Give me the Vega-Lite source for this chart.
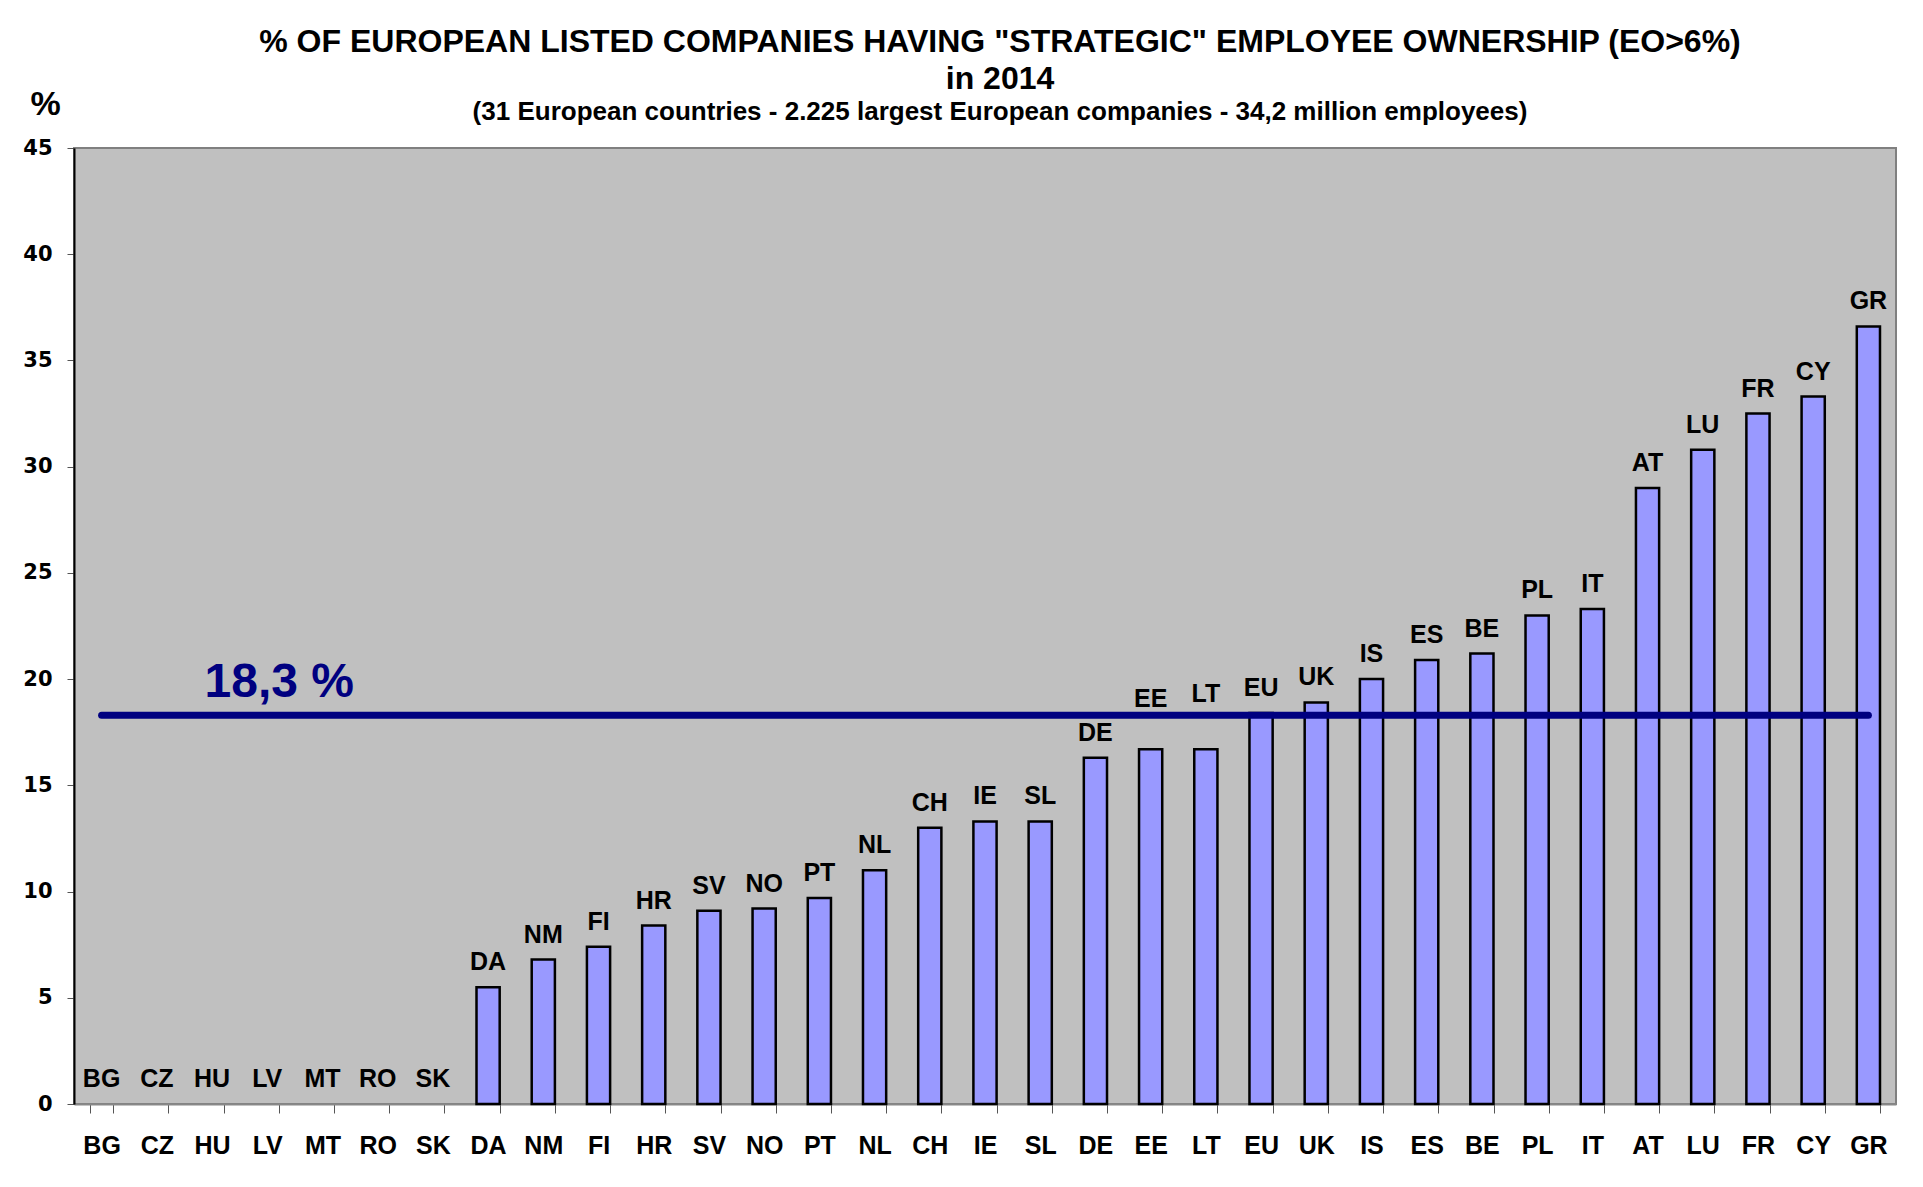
{
  "$schema": "https://vega.github.io/schema/vega-lite/v6.json",
  "autosize": {"type": "none"},
  "width": 1822,
  "height": 956,
  "padding": {"left": 74, "top": 148, "right": 27, "bottom": 83},
  "background": "white",
  "title": {
    "text": ["% OF EUROPEAN LISTED COMPANIES HAVING \"STRATEGIC\" EMPLOYEE OWNERSHIP (EO>6%)", "in 2014"],
    "subtitle": "(31 European countries - 2.225 largest European companies - 34,2 million employees)",
    "font": "Liberation Sans",
    "fontSize": 32,
    "fontWeight": "bold",
    "color": "black",
    "lineHeight": 37,
    "subtitleFont": "Liberation Sans",
    "subtitleFontSize": 26,
    "subtitleFontWeight": "bold",
    "subtitleColor": "black",
    "subtitlePadding": 3,
    "anchor": "middle",
    "dx": 15,
    "dy": 63,
    "offset": 24
  },
  "data": {
    "values": [
      {"country": "BG", "value": 0},
      {"country": "CZ", "value": 0},
      {"country": "HU", "value": 0},
      {"country": "LV", "value": 0},
      {"country": "MT", "value": 0},
      {"country": "RO", "value": 0},
      {"country": "SK", "value": 0},
      {"country": "DA", "value": 5.5},
      {"country": "NM", "value": 6.8},
      {"country": "FI", "value": 7.4},
      {"country": "HR", "value": 8.4},
      {"country": "SV", "value": 9.1},
      {"country": "NO", "value": 9.2},
      {"country": "PT", "value": 9.7},
      {"country": "NL", "value": 11.0},
      {"country": "CH", "value": 13.0},
      {"country": "IE", "value": 13.3},
      {"country": "SL", "value": 13.3},
      {"country": "DE", "value": 16.3},
      {"country": "EE", "value": 16.7},
      {"country": "LT", "value": 16.7},
      {"country": "EU", "value": 18.4},
      {"country": "UK", "value": 18.9},
      {"country": "IS", "value": 20.0},
      {"country": "ES", "value": 20.9},
      {"country": "BE", "value": 21.2},
      {"country": "PL", "value": 23.0},
      {"country": "IT", "value": 23.3},
      {"country": "AT", "value": 29.0},
      {"country": "LU", "value": 30.8},
      {"country": "FR", "value": 32.5},
      {"country": "CY", "value": 33.3},
      {"country": "GR", "value": 36.6}
    ]
  },
  "encoding": {
    "x": {
      "field": "country",
      "type": "nominal",
      "scale": {
        "domain": ["BG","CZ","HU","LV","MT","RO","SK","DA","NM","FI","HR","SV","NO","PT","NL","CH","IE","SL","DE","EE","LT","EU","UK","IS","ES","BE","PL","IT","AT","LU","FR","CY","GR"],
        "paddingInner": 0.58,
        "paddingOuter": 0.29
      },
      "axis": {
        "title": null,
        "labelAngle": 0,
        "labelFont": "Liberation Sans",
        "labelFontSize": 25,
        "labelFontWeight": "bold",
        "labelColor": "black",
        "labelPadding": 20,
        "tickBand": "extent",
        "tickSize": 9,
        "tickColor": "#555555",
        "tickWidth": 1,
        "domainColor": "#888888",
        "domainWidth": 2
      }
    },
    "y": {
      "field": "value",
      "type": "quantitative",
      "scale": {"domain": [0, 45], "nice": false},
      "axis": {
        "values": [0, 5, 10, 15, 20, 25, 30, 35, 40, 45],
        "grid": false,
        "title": "%",
        "titleAngle": 0,
        "titleX": -29,
        "titleY": -44,
        "titleAlign": "center",
        "titleBaseline": "middle",
        "titleFont": "Liberation Sans",
        "titleFontSize": 34,
        "titleFontWeight": "bold",
        "titleColor": "black",
        "labelFont": "DejaVu Sans",
        "labelFontSize": 21,
        "labelFontWeight": "bold",
        "labelColor": "black",
        "labelPadding": 15,
        "tickSize": 7,
        "tickColor": "#555555",
        "domainColor": "black",
        "domainWidth": 2
      }
    }
  },
  "layer": [
    {
      "transform": [{"filter": "datum.value > 0"}],
      "mark": {"type": "bar", "fill": "#9999FF", "stroke": "black", "strokeWidth": 2.5}
    },
    {
      "transform": [{"calculate": "datum.country === 'EE' ? 17.9 : (datum.country === 'LT' ? 18.1 : datum.value)", "as": "labelY"}],
      "mark": {
        "type": "text",
        "baseline": "alphabetic",
        "align": "center",
        "dy": -17,
        "font": "Liberation Sans",
        "fontSize": 25,
        "fontWeight": "bold",
        "color": "black"
      },
      "encoding": {
        "y": {"field": "labelY", "type": "quantitative"},
        "text": {"field": "country"}
      }
    },
    {
      "data": {"values": [{"from": "BG", "to": "GR", "avg": 18.3, "label": "18,3 %", "at": "LV"}]},
      "mark": {"type": "rule", "color": "#000080", "strokeWidth": 7, "strokeCap": "round"},
      "encoding": {
        "x": {"field": "from", "type": "nominal"},
        "x2": {"field": "to"},
        "y": {"field": "avg", "type": "quantitative"}
      }
    },
    {
      "data": {"values": [{"from": "BG", "to": "GR", "avg": 18.3, "label": "18,3 %", "at": "LV"}]},
      "mark": {
        "type": "text",
        "baseline": "alphabetic",
        "align": "center",
        "dx": 12,
        "dy": -18,
        "font": "Liberation Sans",
        "fontSize": 48,
        "fontWeight": "bold",
        "color": "#000080"
      },
      "encoding": {
        "x": {"field": "at", "type": "nominal"},
        "y": {"field": "avg", "type": "quantitative"},
        "text": {"field": "label"}
      }
    }
  ],
  "config": {
    "view": {"fill": "#C0C0C0", "stroke": "#808080", "strokeWidth": 2}
  }
}
